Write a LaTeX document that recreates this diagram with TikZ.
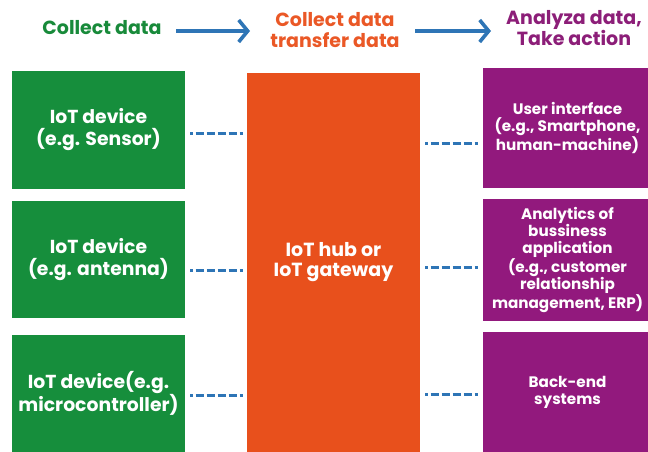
\documentclass[tikz,border=0pt]{standalone}
\usepackage{fontspec}
\setmainfont{Poppins}[UprightFont=* Bold, BoldFont=* Bold]
\usetikzlibrary{arrows.meta}
\definecolor{gbox}{RGB}{22,142,60}
\definecolor{obox}{RGB}{232,80,28}
\definecolor{pbox}{RGB}{146,25,125}
\definecolor{blue1}{RGB}{46,117,182}
\definecolor{gtxt}{RGB}{24,138,58}
\definecolor{otxt}{RGB}{234,88,38}
\definecolor{ptxt}{RGB}{140,30,120}
\tikzset{
  box/.style={inner sep=0pt, text=white, align=center},
  gb/.style={box, fill=gbox, minimum width=173pt, font=\fontsize{18.8}{22}\selectfont},
  pb/.style={box, fill=pbox, minimum width=169pt, font=\fontsize{15.2}{17}\selectfont},
  head/.style={inner sep=0pt, align=center, font=\fontsize{19}{21}\selectfont},
  conn/.style={blue1, line width=3pt,
    dash pattern=on 3pt off 2.5pt on 8.5pt off 2.5pt on 8.5pt off 2.5pt on 8.5pt off 2.5pt on 8.5pt off 2.5pt on 3pt off 40pt},
  harrow/.style={blue1, line width=3.6pt, -{Straight Barb[length=9pt,width=22pt,line width=3.6pt]}}
}
\begin{document}
\begin{tikzpicture}[x=1pt,y=-1pt]
\useasboundingbox (0,0) rectangle (648,452);
% header
\node[head, text=gtxt] (h1) at (102,28) {Collect data};
\node[head, text=otxt] (h2) at (335,30) {Collect data\\transfer data};
\node[head, text=ptxt] (h3) at (574,28) {Analyza data,\\Take action};
\coordinate (a1s) at (176,31);
\coordinate (a1e) at (250,31);
\coordinate (a2s) at (415,31);
\coordinate (a2e) at (491,31);
\draw[harrow] (a1s) -- (a1e);
\draw[harrow] (a2s) -- (a2e);
% green
\node[gb, minimum height=118pt] (g1) at (98.5,130) {IoT device\\(e.g. Sensor)};
\node[gb, minimum height=117pt] (g2) at (98.5,259.5) {IoT device\\(e.g. antenna)};
\node[gb, minimum height=117pt] (g3) at (98.5,393.5) {IoT device(e.g.\\microcontroller)};
% hub
\node[box, fill=obox, minimum width=173pt, minimum height=379pt, font=\fontsize{19}{20}\selectfont] (hub) at (333.5,262.5) {IoT hub or\\IoT gateway};
% purple
\node[pb, minimum height=120pt] (p1) at (567.5,128) {User interface\\(e.g., Smartphone,\\human-machine)};
\node[pb, minimum height=122pt] (p2) at (567.5,260) {Analytics of\\bussiness\\application\\(e.g., customer\\relationship\\management, ERP)};
\node[pb, minimum height=120pt] (p3) at (567.5,392) {Back-end\\systems};
% connectors
\coordinate (l1) at ([shift={(5,3)}]g1.east);
\coordinate (l2) at ([shift={(5,10.5)}]g2.east);
\coordinate (l3) at ([shift={(5,1.5)}]g3.east);
\draw[conn] (l1) -- ([xshift=-4pt]hub.west |- l1);
\draw[conn] (l2) -- ([xshift=-4pt]hub.west |- l2);
\draw[conn] (l3) -- ([xshift=-4pt]hub.west |- l3);
\coordinate (r1) at ([shift={(-4,15)}]p1.west);
\coordinate (r2) at ([shift={(-4,7)}]p2.west);
\coordinate (r3) at ([shift={(-4,2)}]p3.west);
\draw[conn] ([xshift=5pt]hub.east |- r1) -- (r1);
\draw[conn] ([xshift=5pt]hub.east |- r2) -- (r2);
\draw[conn] ([xshift=5pt]hub.east |- r3) -- (r3);
\end{tikzpicture}
\end{document}
